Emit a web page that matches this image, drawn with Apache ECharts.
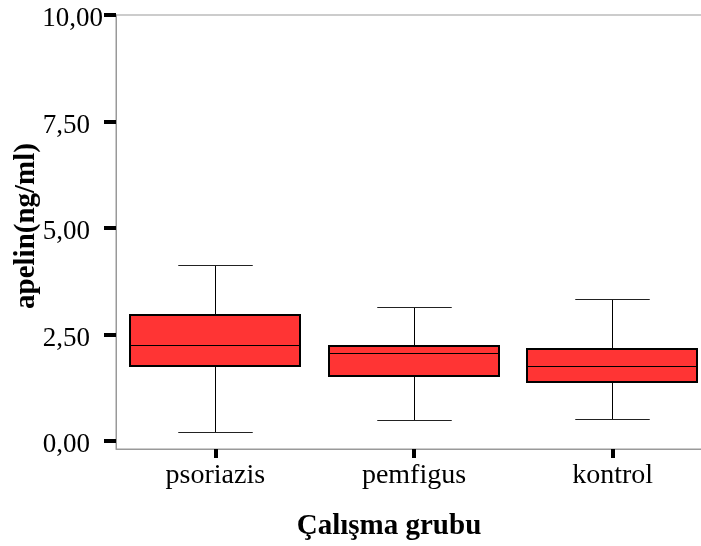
<!DOCTYPE html>
<html>
<head>
<meta charset="utf-8">
<script src="https://cdn.jsdelivr.net/npm/echarts@6/dist/echarts.min.js"></script>
<style>
html,body{margin:0;padding:0;background:#fff;overflow:hidden;width:701px;height:546px;}
#chart{width:712px;height:546px;}
</style>
</head>
<body>
<div id="chart"></div>
<script>
const categories = ['psoriazis', 'pemfigus', 'kontrol'];
const minVals = [0.19, 0.47, 0.50];
const q1Vals = [1.75, 1.54, 1.39];
const medianVals = [2.24, 2.06, 1.75];
const q3Vals = [2.95, 2.24, 2.17];
const maxVals = [4.13, 3.13, 3.31];
const yTicks = [0, 2.5, 5, 7.5, 10];
const yTitle = 'apelin(ng/ml)';
const xTitle = 'Çalışma grubu';

const boxData = categories.map((c, i) => [i, minVals[i], q1Vals[i], medianVals[i], q3Vals[i], maxVals[i]]);

const FONT = '"Liberation Serif", "Times New Roman", serif';
const chart = echarts.init(document.getElementById('chart'), null, {renderer: 'canvas'});

function r5(v) { return Math.round(v - 0.5) + 0.5; }

chart.setOption({
  animation: false,
  backgroundColor: '#ffffff',
  grid: {
    left: 116, right: 0, top: 15, bottom: 97,
    show: true, borderColor: '#999999', borderWidth: 1, backgroundColor: 'transparent'
  },
  xAxis: {
    type: 'category',
    data: categories,
    axisLine: {show: true, onZero: false, lineStyle: {color: '#999999', width: 1}},
    axisTick: {show: true, alignWithLabel: true, length: 9, lineStyle: {color: '#000', width: 4}},
    axisLabel: {color: '#000', fontFamily: FONT, fontSize: 28, margin: 13}
  },
  yAxis: {
    type: 'value',
    min: -0.188,
    max: 10,
    splitLine: {show: false},
    axisLine: {show: true, lineStyle: {color: '#999999', width: 1}},
    axisTick: {show: true, length: 12, customValues: yTicks, lineStyle: {color: '#000', width: 4}},
    axisLabel: {
      color: '#000', fontFamily: FONT, fontSize: 27, margin: 13,
      customValues: yTicks,
      padding: [8, 0, 0, 0],
      formatter: function (v) {
        const t = v.toFixed(2).replace('.', ',');
        return v >= 10 ? t : t + '{sp|}';
      },
      rich: {sp: {width: 13}}
    }
  },
  graphic: [
    {
      type: 'text', x: 27, y: 226, rotation: Math.PI / 2,
      style: {text: yTitle, font: 'bold 29px ' + FONT, fill: '#000', align: 'center', verticalAlign: 'middle'}
    },
    {
      type: 'text', x: 389, y: 527,
      style: {text: xTitle, font: 'bold 29px ' + FONT, fill: '#000', align: 'center', verticalAlign: 'middle'}
    }
  ],
  series: [{
    type: 'custom',
    data: boxData,
    encode: {x: 0, y: [1, 2, 3, 4, 5]},
    renderItem: function (params, api) {
      const xi = api.value(0);
      const band = api.size([1, 0])[0];
      const pMin = api.coord([xi, api.value(1)]);
      const pQ1 = api.coord([xi, api.value(2)]);
      const pMed = api.coord([xi, api.value(3)]);
      const pQ3 = api.coord([xi, api.value(4)]);
      const pMax = api.coord([xi, api.value(5)]);
      const cx = r5(pMin[0]);
      const boxW = band * 0.857;
      const capW = band * 0.375;
      const lineStyle = {stroke: '#000', lineWidth: 1};
      return {
        type: 'group',
        children: [
          {type: 'line', shape: {x1: cx, y1: pMax[1], x2: cx, y2: pQ3[1]}, style: lineStyle},
          {type: 'line', shape: {x1: cx, y1: pQ1[1], x2: cx, y2: pMin[1]}, style: lineStyle},
          {type: 'line', shape: {x1: cx - capW / 2, y1: r5(pMax[1]), x2: cx + capW / 2, y2: r5(pMax[1])}, style: {stroke: '#222', lineWidth: 1}},
          {type: 'line', shape: {x1: cx - capW / 2, y1: r5(pMin[1]), x2: cx + capW / 2, y2: r5(pMin[1])}, style: {stroke: '#222', lineWidth: 1}},
          {type: 'rect', shape: {x: Math.round(cx - boxW / 2), y: Math.round(pQ3[1]), width: Math.round(boxW), height: Math.round(pQ1[1] - pQ3[1])},
           style: {fill: '#FF3434', stroke: '#000', lineWidth: 2}},
          {type: 'line', shape: {x1: cx - boxW / 2, y1: r5(pMed[1]), x2: cx + boxW / 2, y2: r5(pMed[1])}, style: lineStyle}
        ]
      };
    }
  }]
});
</script>
</body>
</html>
